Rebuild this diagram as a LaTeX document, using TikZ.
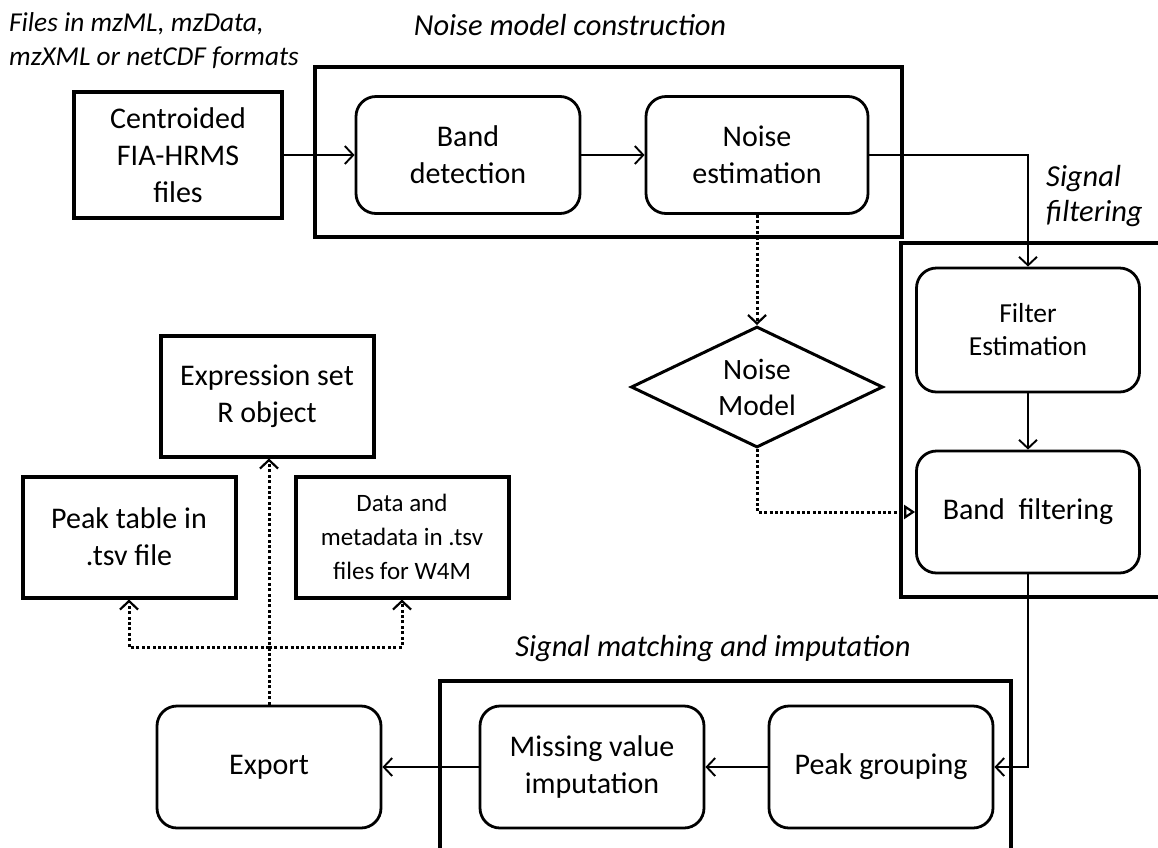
\documentclass[tikz,border=0pt]{standalone}
\usepackage{fontspec}
\setmainfont{Carlito}
\usetikzlibrary{arrows.meta,shapes.geometric}
\begin{document}
\begin{tikzpicture}[x=1pt,y=-1pt,
  box/.style={draw,line width=4pt,inner sep=0pt,align=center,font=\fontsize{30}{37}\selectfont},
  rbox/.style={draw,line width=2.8pt,rounded corners=20pt,inner sep=0pt,align=center,font=\fontsize{30}{37}\selectfont},
  small/.style={font=\fontsize{25}{34}\selectfont},
  fsmall/.style={font=\fontsize{27.5}{33}\selectfont},
  container/.style={draw,line width=4.2pt},
  lbl/.style={font=\fontsize{30.5}{35}\selectfont\itshape,inner sep=0pt},
  flbl/.style={font=\fontsize{27.3}{34}\selectfont\itshape,inner sep=0pt},
  arr/.style={line width=1.9pt,-{Straight Barb[length=8.5pt,width=18pt,line width=1.9pt]}},
  dotline/.style={line width=3pt,dash pattern=on 3pt off 2.4pt},
  darr/.style={dotline,-{Straight Barb[length=8.5pt,width=18pt,line width=2.2pt]}},
  tarr/.style={dotline,-{Triangle[open,length=11pt,width=14pt,line width=2.2pt]}}
]
\useasboundingbox (0,0) rectangle (1158,847);
\clip (0,0) rectangle (1158,847);
\fill[white] (0,0) rectangle (1158,847);

% containers
\draw[container] (315,67) rectangle (902,237);
\draw[container] (901,243) rectangle (1180,597);
\draw[container] (440,681) rectangle (1011,870);

% labels
\node[flbl,anchor=west,align=left] (lfiles) at (9,41) {Files in mzML, mzData,\\mzXML or netCDF formats};
\node[lbl] (lnmc) at (570,25) {Noise model construction};
\node[lbl,anchor=west,align=left] (lsf) at (1046,196) {Signal\\filtering};
\node[lbl] (lsmi) at (713,649) {Signal matching and imputation};

% nodes
\node[box,minimum width=208,minimum height=126] (cent) at (178,155) {Centroided\\FIA-HRMS\\files};
\node[rbox,minimum width=224,minimum height=117] (bd) at (468,155) {Band\\detection};
\node[rbox,minimum width=222,minimum height=117] (ne) at (757,155) {Noise\\estimation};
\node[rbox,fsmall,minimum width=223,minimum height=124] (fe) at (1028,330) {Filter\\Estimation};
\node[rbox,minimum width=223,minimum height=122] (bf) at (1028,512) {Band\ \ filtering};
\node[diamond,draw,line width=3pt,minimum width=252,minimum height=121,inner sep=0pt] (nm) at (757,387) {};
\node[align=center,font=\fontsize{29.5}{36}\selectfont] (nmt) at (nm) {Noise\\Model};
\node[box,minimum width=213,minimum height=121] (es) at (267,396) {Expression set\\R object};
\node[box,minimum width=213,minimum height=121] (pt) at (129,537) {Peak table in\\.tsv file};
\node[box,small,minimum width=213,minimum height=121] (dm) at (402,537) {Data and\\metadata in .tsv\\files for W4M};
\node[rbox,minimum width=224,minimum height=122] (ex) at (269,767) {Export};
\node[rbox,minimum width=224,minimum height=122] (mv) at (592,767) {Missing value\\imputation};
\node[rbox,minimum width=224,minimum height=122] (pg) at (881,767) {Peak grouping};

% connectors
\draw[arr] (cent) -- (bd);
\draw[arr] (bd) -- (ne);
\draw[arr] (ne.east) -| (fe.north);
\draw[arr] (fe) -- (bf);
\draw[arr] (bf.south) |- (pg.east);
\draw[arr] (pg) -- (mv);
\draw[arr] (mv) -- (ex);
\draw[darr] (ne.south) -- (nm.north);
\draw[tarr] (nm.south) |- (bf.west);
\coordinate (br) at (ex.north |- 0,647);
\draw[darr] (ex.north) -- (ex.north |- es.south);
\draw[darr] (br) -| (pt.south);
\draw[darr] (br) -| (dm.south);
\end{tikzpicture}
\end{document}
